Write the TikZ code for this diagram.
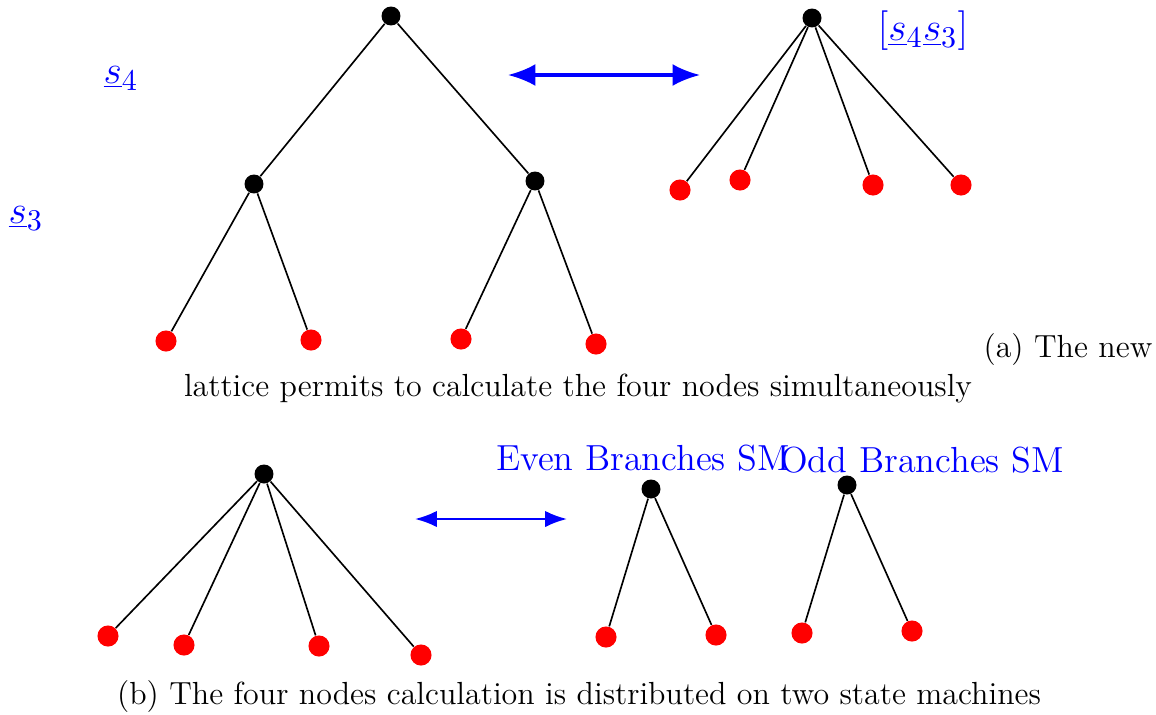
\documentclass[tikz,border=0pt]{standalone}
\usetikzlibrary{arrows.meta}
\begin{document}
\begin{tikzpicture}[x=0.0128cm, y=-0.0128cm,
    blk/.style={circle, fill=black, inner sep=0pt, minimum size=0.243cm},
    leaf/.style={circle, fill=red, inner sep=0pt, minimum size=0.27cm},
    edge/.style={black, line width=0.6pt},
    lbl/.style={text=blue, font=\fontsize{15}{17}\selectfont},
    smlbl/.style={text=blue, font=\fontsize{13.2}{15}\selectfont},
    capt/.style={font=\fontsize{11.65}{14}\selectfont},
    bigarrow/.style={blue, line width=1.2pt, {Latex[length=10pt,width=8pt]}-{Latex[length=10pt,width=8pt]}},
    smallarrow/.style={blue, line width=0.8pt, {Latex[length=8pt,width=6pt]}-{Latex[length=8pt,width=6pt]}}]
    \useasboundingbox (0,0) rectangle (1156,714);

    % (a) lattice with two levels
    \node[lbl] (s4) at (121,78) {$\underline{s}_4$};
    \node[lbl] (s3) at (26,218) {$\underline{s}_3$};
    \node[blk] (ra) at (391,16) {};
    \node[blk] (na) at (254,184) {};
    \node[blk] (nb) at (535,181) {};
    \node[leaf] (la) at (166,341) {};
    \node[leaf] (lb) at (311,340) {};
    \node[leaf] (lc) at (461,339) {};
    \node[leaf] (ld) at (596,344) {};
    \draw[edge] (ra) -- (na);
    \draw[edge] (ra) -- (nb);
    \draw[edge] (na) -- (la);
    \draw[edge] (na) -- (lb);
    \draw[edge] (nb) -- (lc);
    \draw[edge] (nb) -- (ld);

    \coordinate (aw) at (508,75);
    \coordinate (ae) at (700,75);
    \draw[bigarrow] (aw) -- (ae);

    % (a) merged lattice
    \node[lbl] (s43) at (923,31) {$[\underline{s}_4\underline{s}_3]$};
    \node[blk] (rm) at (812,18) {};
    \node[leaf] (ma) at (680,190) {};
    \node[leaf] (mb) at (740,180) {};
    \node[leaf] (mc) at (873,185) {};
    \node[leaf] (md) at (961,185) {};
    \draw[edge] (rm) -- (ma);
    \draw[edge] (rm) -- (mb);
    \draw[edge] (rm) -- (mc);
    \draw[edge] (rm) -- (md);

    \node[capt] (capa) at (1068,350) {(a) The new};
    \node[capt] (capa2) at (578,388) {lattice permits to calculate the four nodes simultaneously};

    % (b) four nodes
    \node[blk] (rb) at (264,474) {};
    \node[leaf] (ba) at (108,636) {};
    \node[leaf] (bb) at (184,645) {};
    \node[leaf] (bc) at (319,646) {};
    \node[leaf] (bd) at (421,655) {};
    \draw[edge] (rb) -- (ba);
    \draw[edge] (rb) -- (bb);
    \draw[edge] (rb) -- (bc);
    \draw[edge] (rb) -- (bd);

    \coordinate (bw) at (415,519);
    \coordinate (be) at (567,519);
    \draw[smallarrow] (bw) -- (be);

    % (b) two state machines
    \node[smlbl] (even) at (643,458) {Even Branches SM};
    \node[smlbl] (odd) at (922,460) {Odd Branches SM};
    \node[blk] (re) at (651,489) {};
    \node[leaf] (ea) at (606,637) {};
    \node[leaf] (eb) at (716,635) {};
    \node[blk] (ro) at (847,485) {};
    \node[leaf] (oa) at (802,633) {};
    \node[leaf] (ob) at (912,631) {};
    \draw[edge] (re) -- (ea);
    \draw[edge] (re) -- (eb);
    \draw[edge] (ro) -- (oa);
    \draw[edge] (ro) -- (ob);

    \node[capt] (capb) at (579,697) {(b) The four nodes calculation is distributed on two state machines};
\end{tikzpicture}
\end{document}
